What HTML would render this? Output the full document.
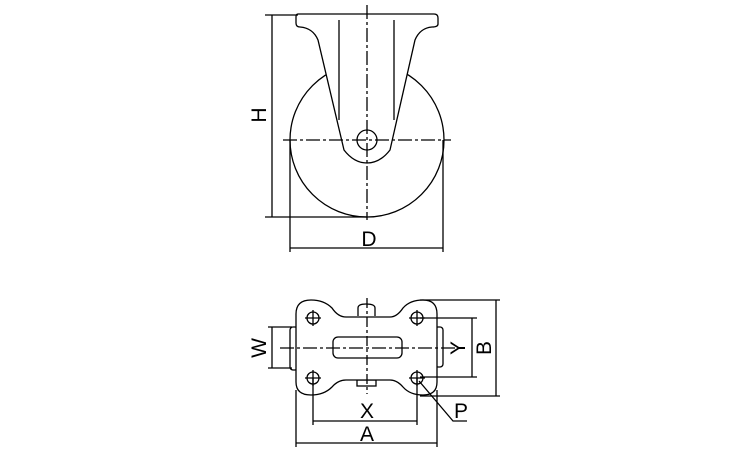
<!DOCTYPE html>
<html><head><meta charset="utf-8"><style>
html,body{margin:0;padding:0;background:#fff}
text{font-family:"Liberation Sans",sans-serif;font-size:21px;fill:#000}
</style></head><body>
<svg width="750" height="450" viewBox="0 0 750 450" xmlns="http://www.w3.org/2000/svg">
<g fill="none" stroke="#000" stroke-width="1.3">
<!-- side view -->
<circle cx="367" cy="140" r="77" fill="#fff"/>
<path d="M298,14 L434,14 Q438,14 438,18 L438,24 Q438,27 432,27 Q420,28 415,40 L390,150 Q380,163 367,163 Q354,163 344,150 L318,40 Q313,28 300,27 Q296,27 296,23 L296,17 Q296,14 298,14 Z" fill="#fff"/>
<line x1="339" y1="20" x2="339" y2="120"/>
<line x1="394" y1="20" x2="394" y2="120"/>
<circle cx="367" cy="140" r="10"/>
<line x1="367" y1="5" x2="367" y2="220" stroke-dasharray="14,3,3,3"/>
<line x1="283" y1="140" x2="451" y2="140" stroke-dasharray="14,3,3,3"/>
<line x1="265" y1="15" x2="298" y2="15"/>
<line x1="265" y1="217" x2="367" y2="217"/>
<line x1="272" y1="15" x2="272" y2="217"/>
<line x1="290" y1="140" x2="290" y2="252"/>
<line x1="443" y1="140" x2="443" y2="252"/>
<line x1="290" y1="248" x2="443" y2="248"/>
<!-- bottom view -->
<rect x="290" y="327" width="8" height="43" rx="3"/>
<rect x="435" y="327" width="8" height="40" rx="3"/>
<path d="M358,316 L358,308 Q358,304 366,304 Q375,304 375,308 L375,316"/>
<rect x="357" y="380" width="19" height="6"/>
<path d="M296,314 Q296,300 311,300 Q324,300 332,308 Q338,317 346,317 L390,317 Q397,317 403,308 Q410,300 423,300 Q437,300 437,314 L437,382 Q437,395 423,395 Q410,395 403,387 Q397,380 390,380 L346,380 Q338,380 332,387 Q324,395 311,395 Q296,395 296,382 Z" fill="#fff"/>
<rect x="333" y="337" width="69" height="21" rx="5"/>
<circle cx="313" cy="318" r="6"/><circle cx="417" cy="318" r="6"/>
<circle cx="313" cy="378" r="6"/><circle cx="417" cy="378" r="6"/>
<path d="M305,318h16M313,310v16M409,318h16M417,310v16M305,378h16M313,370v16M409,378h16M417,370v16"/>
<line x1="367" y1="298" x2="367" y2="394" stroke-dasharray="10,3,3,3"/>
<line x1="280" y1="348" x2="460" y2="348" stroke-dasharray="14,3,3,3"/>
<!-- W -->
<line x1="268" y1="327" x2="292" y2="327"/><line x1="268" y1="368" x2="292" y2="368"/>
<line x1="272" y1="327" x2="272" y2="368"/>
<!-- Y -->
<line x1="420" y1="318" x2="477" y2="318"/><line x1="420" y1="377" x2="477" y2="377"/>
<line x1="472" y1="318" x2="472" y2="377"/>
<!-- B -->
<line x1="420" y1="300" x2="500" y2="300"/><line x1="420" y1="396" x2="500" y2="396"/>
<line x1="496" y1="300" x2="496" y2="396"/>
<!-- X, A -->
<line x1="313" y1="378" x2="313" y2="425"/><line x1="417" y1="378" x2="417" y2="425"/>
<line x1="313" y1="421" x2="417" y2="421"/>
<line x1="296" y1="390" x2="296" y2="447"/><line x1="437" y1="390" x2="437" y2="447"/>
<line x1="296" y1="443" x2="437" y2="443"/>
<!-- P -->
<path d="M419,381 L453,421 L467,421"/>
</g>
<text x="369" y="246" text-anchor="middle">D</text>
<text transform="translate(266,115) rotate(-90)" text-anchor="middle">H</text>
<text transform="translate(266,348) rotate(-90)" text-anchor="middle">W</text>
<text transform="translate(465,348) rotate(-90)" text-anchor="middle">Y</text>
<text transform="translate(491,348) rotate(-90)" text-anchor="middle">B</text>
<text x="367" y="418" text-anchor="middle">X</text>
<text x="367" y="441" text-anchor="middle">A</text>
<text x="461" y="418" text-anchor="middle">P</text>
</svg>
</body></html>
